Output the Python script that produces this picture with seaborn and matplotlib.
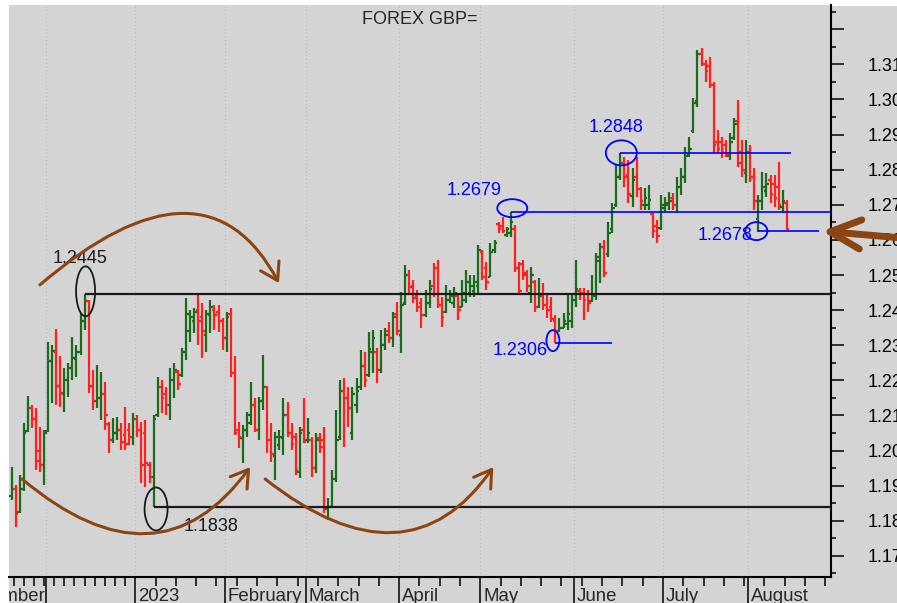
import numpy as np
import pandas as pd
import matplotlib
matplotlib.use("Agg")
import matplotlib.pyplot as plt
import seaborn as sns
from matplotlib.patches import Ellipse, FancyArrowPatch, Rectangle
from matplotlib.path import Path
from matplotlib.ticker import MultipleLocator, FuncFormatter
from matplotlib.transforms import Bbox, TransformedBbox, ScaledTranslation, blended_transform_factory

# ---------------- data: daily GBP bars, 2022-11-18 .. 2023-08-14 (weekdays) ----------------
first_day, last_day = "2022-11-18", "2023-08-14"

opens = [
    1.1870, 1.1890, 1.1825, 1.1890, 1.2055, 1.2120, 1.2090, 1.2000, 1.1960,  # Nov
    1.2055, 1.2255, 1.2280, 1.2185, 1.2160, 1.2200, 1.2235, 1.2260, 1.2280, 1.2370, 1.2425,
    1.2185, 1.2140, 1.2150, 1.2160, 1.2075, 1.2030, 1.2050, 1.2060, 1.2045, 1.2060, 1.2040,  # Dec
    1.2090, 1.2060, 1.2050, 1.1960, 1.1925, 1.2100, 1.2180, 1.2160, 1.2130, 1.2200, 1.2225,
    1.2215, 1.2280, 1.2340, 1.2370, 1.2400, 1.2380, 1.2330, 1.2385, 1.2400, 1.2395, 1.2370,  # Jan
    1.2320, 1.2390, 1.2220, 1.2060, 1.2035, 1.2060, 1.2080, 1.2130, 1.2060, 1.2140,
    1.2180, 1.2030, 1.1985, 1.2015, 1.2035, 1.2100, 1.2050, 1.2040, 1.1940, 1.2060,  # Feb
    1.2030, 1.2030, 1.1950, 1.2035, 1.2030, 1.1835, 1.1840, 1.1920, 1.2040, 1.2170, 1.2150,
    1.2050, 1.2130, 1.2180, 1.2240, 1.2215, 1.2280, 1.2280, 1.2230, 1.2300, 1.2340, 1.2320, 1.2390,  # Mar
    1.2330, 1.2420, 1.2500, 1.2470, 1.2440, 1.2420, 1.2385, 1.2420, 1.2470, 1.2520,
    1.2415, 1.2395, 1.2430, 1.2420, 1.2440, 1.2410, 1.2430, 1.2450, 1.2455, 1.2470,  # Apr
    1.2565, 1.2520, 1.2495, 1.2570, 1.2645, 1.2640, 1.2615, 1.2620, 1.2630, 1.2520, 1.2530,
    1.2505, 1.2450, 1.2480, 1.2410, 1.2440, 1.2415, 1.2410, 1.2370, 1.2340, 1.2350, 1.2360, 1.2370,  # May
    1.2430, 1.2455, 1.2450, 1.2445, 1.2425, 1.2440, 1.2540, 1.2580, 1.2560, 1.2630, 1.2700,
    1.2780, 1.2820, 1.2785, 1.2725, 1.2780, 1.2745, 1.2700, 1.2700, 1.2675, 1.2640, 1.2635,  # Jun
    1.2690, 1.2700, 1.2720, 1.2700, 1.2750, 1.2780, 1.2845, 1.2910, 1.2995, 1.3130, 1.3100,
    1.3095, 1.3040, 1.2880, 1.2880, 1.2870, 1.2840, 1.2890, 1.2940, 1.2850, 1.2790,  # Jul
    1.2850, 1.2780, 1.2660, 1.2710, 1.2740, 1.2770, 1.2760, 1.2750, 1.2695, 1.2705,  # Aug
]
highs = [
    1.1953, 1.1902, 1.1930, 1.2078, 1.2155, 1.2130, 1.2121, 1.2067, 1.2058,
    1.2309, 1.2301, 1.2346, 1.2269, 1.2235, 1.2249, 1.2323, 1.2301, 1.2392, 1.2446, 1.2429,
    1.2229, 1.2244, 1.2224, 1.2195, 1.2081, 1.2093, 1.2096, 1.2079, 1.2124, 1.2079, 1.2107,
    1.2101, 1.2081, 1.2087, 1.1967, 1.2101, 1.2210, 1.2201, 1.2181, 1.2235, 1.2249, 1.2229,
    1.2292, 1.2434, 1.2400, 1.2406, 1.2449, 1.2420, 1.2400, 1.2429, 1.2414, 1.2414, 1.2378,
    1.2394, 1.2405, 1.2270, 1.2081, 1.2073, 1.2110, 1.2195, 1.2150, 1.2153, 1.2272,
    1.2184, 1.2079, 1.2053, 1.2058, 1.2150, 1.2138, 1.2079, 1.2050, 1.2067, 1.2150,
    1.2093, 1.2038, 1.2050, 1.2050, 1.2067, 1.1865, 1.1944, 1.2115, 1.2201, 1.2207, 1.2181,
    1.2181, 1.2207, 1.2286, 1.2281, 1.2338, 1.2343, 1.2292, 1.2343, 1.2349, 1.2366, 1.2395, 1.2423,
    1.2452, 1.2528, 1.2514, 1.2486, 1.2457, 1.2434, 1.2457, 1.2486, 1.2534, 1.2542,
    1.2437, 1.2471, 1.2457, 1.2466, 1.2449, 1.2486, 1.2514, 1.2500, 1.2500, 1.2586,
    1.2571, 1.2537, 1.2591, 1.2600, 1.2651, 1.2665, 1.2637, 1.2679, 1.2642, 1.2537, 1.2542,
    1.2514, 1.2522, 1.2486, 1.2491, 1.2477, 1.2449, 1.2437, 1.2386, 1.2378, 1.2392, 1.2443, 1.2449,
    1.2542, 1.2463, 1.2463, 1.2457, 1.2500, 1.2562, 1.2591, 1.2600, 1.2651, 1.2705, 1.2813,
    1.2848, 1.2836, 1.2828, 1.2805, 1.2836, 1.2751, 1.2748, 1.2756, 1.2677, 1.2657, 1.2728,
    1.2722, 1.2736, 1.2734, 1.2779, 1.2805, 1.2865, 1.2893, 1.3004, 1.3141, 1.3147, 1.3113,
    1.3121, 1.3050, 1.2913, 1.2893, 1.2885, 1.2905, 1.2947, 1.2999, 1.2885, 1.2885,
    1.2870, 1.2805, 1.2728, 1.2793, 1.2791, 1.2785, 1.2785, 1.2822, 1.2742, 1.2714,
]
lows = [
    1.1859, 1.1782, 1.1822, 1.1885, 1.2053, 1.2064, 1.1944, 1.1938, 1.1902,
    1.2053, 1.2135, 1.2130, 1.2124, 1.2110, 1.2153, 1.2201, 1.2210, 1.2272, 1.2343, 1.2164,
    1.2115, 1.2121, 1.2087, 1.2058, 1.1993, 1.2021, 1.2030, 1.2001, 1.2001, 1.2016, 1.2016,
    1.2038, 1.1907, 1.1896, 1.1907, 1.1838, 1.2095, 1.2107, 1.2101, 1.2087, 1.2150, 1.2173,
    1.2210, 1.2258, 1.2309, 1.2335, 1.2301, 1.2263, 1.2281, 1.2335, 1.2343, 1.2338, 1.2286,
    1.2281, 1.2210, 1.2044, 1.2007, 1.1964, 1.2038, 1.2073, 1.2053, 1.2030, 1.2115,
    1.1993, 1.1967, 1.1916, 1.2001, 1.1987, 1.2038, 1.2001, 1.1930, 1.1922, 1.2021,
    1.2021, 1.1924, 1.1936, 1.1993, 1.1822, 1.1803, 1.1839, 1.1910, 1.2030, 1.2010, 1.2067,
    1.2030, 1.2107, 1.2173, 1.2181, 1.2210, 1.2221, 1.2193, 1.2221, 1.2286, 1.2306, 1.2295, 1.2329,
    1.2278, 1.2414, 1.2449, 1.2420, 1.2395, 1.2349, 1.2380, 1.2406, 1.2437, 1.2406,
    1.2352, 1.2392, 1.2420, 1.2406, 1.2372, 1.2409, 1.2420, 1.2437, 1.2437, 1.2449,
    1.2486, 1.2457, 1.2494, 1.2562, 1.2620, 1.2620, 1.2608, 1.2608, 1.2508, 1.2449, 1.2486,
    1.2452, 1.2420, 1.2395, 1.2406, 1.2400, 1.2378, 1.2366, 1.2306, 1.2338, 1.2349, 1.2343, 1.2349,
    1.2409, 1.2429, 1.2372, 1.2395, 1.2423, 1.2429, 1.2477, 1.2494, 1.2551, 1.2620, 1.2694,
    1.2771, 1.2751, 1.2705, 1.2694, 1.2722, 1.2685, 1.2685, 1.2685, 1.2605, 1.2591, 1.2628,
    1.2679, 1.2685, 1.2685, 1.2677, 1.2728, 1.2762, 1.2836, 1.2905, 1.2979, 1.3095, 1.3050,
    1.3033, 1.2848, 1.2848, 1.2833, 1.2836, 1.2828, 1.2885, 1.2808, 1.2779, 1.2762,
    1.2765, 1.2685, 1.2622, 1.2685, 1.2722, 1.2705, 1.2694, 1.2685, 1.2677, 1.2628,
]
closes = [
    1.1890, 1.1820, 1.1890, 1.2050, 1.2120, 1.2090, 1.1970, 1.1960, 1.2050,
    1.2255, 1.2285, 1.2185, 1.2165, 1.2200, 1.2235, 1.2265, 1.2280, 1.2370, 1.2425, 1.2185,
    1.2140, 1.2150, 1.2160, 1.2100, 1.2030, 1.2050, 1.2060, 1.2025, 1.2020, 1.2040, 1.2090,
    1.2060, 1.1960, 1.1965, 1.1925, 1.2090, 1.2180, 1.2150, 1.2130, 1.2200, 1.2230, 1.2190,
    1.2280, 1.2390, 1.2380, 1.2395, 1.2370, 1.2340, 1.2390, 1.2410, 1.2385, 1.2370, 1.2320,
    1.2380, 1.2220, 1.2050, 1.2040, 1.2060, 1.2100, 1.2130, 1.2060, 1.2140, 1.2180,
    1.2030, 1.1990, 1.2040, 1.2040, 1.2100, 1.2050, 1.2020, 1.1945, 1.2050, 1.2025,
    1.2050, 1.1950, 1.2030, 1.2010, 1.1840, 1.1840, 1.1920, 1.2030, 1.2170, 1.2150, 1.2120,
    1.2160, 1.2170, 1.2240, 1.2200, 1.2290, 1.2320, 1.2230, 1.2300, 1.2330, 1.2320, 1.2380, 1.2340,
    1.2415, 1.2500, 1.2465, 1.2435, 1.2410, 1.2385, 1.2420, 1.2460, 1.2445, 1.2415,
    1.2380, 1.2430, 1.2440, 1.2450, 1.2400, 1.2450, 1.2480, 1.2470, 1.2480, 1.2570,
    1.2495, 1.2480, 1.2565, 1.2590, 1.2630, 1.2625, 1.2630, 1.2650, 1.2520, 1.2455, 1.2500,
    1.2470, 1.2500, 1.2410, 1.2440, 1.2415, 1.2400, 1.2375, 1.2340, 1.2350, 1.2370, 1.2390, 1.2430,
    1.2460, 1.2445, 1.2430, 1.2420, 1.2440, 1.2550, 1.2580, 1.2505, 1.2620, 1.2690, 1.2780,
    1.2820, 1.2780, 1.2730, 1.2770, 1.2745, 1.2710, 1.2720, 1.2715, 1.2625, 1.2610, 1.2700,
    1.2705, 1.2710, 1.2700, 1.2750, 1.2780, 1.2840, 1.2860, 1.2990, 1.3130, 1.3100, 1.3080,
    1.3040, 1.2870, 1.2860, 1.2850, 1.2845, 1.2880, 1.2930, 1.2820, 1.2800, 1.2850,
    1.2780, 1.2710, 1.2710, 1.2750, 1.2760, 1.2730, 1.2720, 1.2700, 1.2710, 1.2630,
]

month_labels = ["November", "", "2023", "February", "March", "April",
                "May", "June", "July", "August"]

# marked levels: bar the level starts from, level, label, where the line stops
level_dates = ["2022-12-14", "2023-01-06", "2023-05-10", "2023-06-16", "2023-05-25", "2023-08-03"]
level_values = [1.2445, 1.1838, 1.2679, 1.2848, 1.2306, 1.2625]
level_texts = ["1.2445", "1.1838", "1.2679", "1.2848", "1.2306", "1.2678"]
level_ends = [None, None, None, "2023-08-15", "2023-06-14", "2023-08-24"]

# ---------------- style ----------------
BG = "#d4d4d4"
GREEN = "#1c6a1c"
RED = "#ff2020"
BLUE = "#0000ff"
BLACK = "#1a1a1a"
BROWN = "#8b4513"

sns.set_theme(style="ticks", rc={"axes.facecolor": BG, "axes.edgecolor": "black",
                                 "xtick.color": "black", "ytick.color": "black"})
plt.rcParams["font.family"] = ["Liberation Sans", "DejaVu Sans"]

calendar = pd.bdate_range("2022-11-01", "2023-08-31")
dates = pd.bdate_range(first_day, last_day)
x = calendar.get_indexer(dates).astype(float)
o, h, l, c = (np.array(v) for v in (opens, highs, lows, closes))
x0 = x[0]
XLIM = (x0 - 0.62, x0 + 201.9)
YLIM = (1.1640, 1.3269)

fig = plt.figure(figsize=(8.97, 6.03), dpi=100)
fig.patch.set_facecolor("white")
fig.add_artist(Rectangle((9 / 897, 0), 1, 597 / 603, transform=fig.transFigure,
                         facecolor=BG, edgecolor="none", zorder=-10))
ax = fig.add_axes([9 / 897, 26 / 603, 822 / 897, 572 / 603])
sns.despine(ax=ax, left=True, top=True, right=False, bottom=False)
for side in ("right", "bottom"):
    ax.spines[side].set_linewidth(1.5)

# bars
up = c >= o
for mask, col in ((up, GREEN), (~up, RED)):
    ax.vlines(x[mask], l[mask], h[mask], color=col, lw=1.6, zorder=2)
    ax.hlines(o[mask], x[mask] - 0.65, x[mask], color=col, lw=1.6, zorder=2)
    ax.hlines(c[mask], x[mask], x[mask] + 0.65, color=col, lw=1.6, zorder=2)

# x axis: month boundaries, weekly ticks (half-weekly in 2022)
month_first = calendar.to_series().groupby(calendar.to_period("M")).min()
month_pos = calendar.get_indexer(month_first) - 0.5
monday_pos = np.flatnonzero(calendar.dayofweek == 0) - 0.5
mid_pos = monday_pos[calendar[(monday_pos + 0.5).astype(int)].year < 2023] + 2.5
ax.set_xticks(month_pos)
ax.set_xticklabels([])
ax.set_xticks(np.sort(np.concatenate([monday_pos, mid_pos])), minor=True)
ax.set_xlim(*XLIM)
ax.set_ylim(*YLIM)
ax.tick_params(axis="x", which="major", length=19, width=1.1, direction="out")
ax.tick_params(axis="x", which="minor", length=6.5, width=1.1, direction="out")
ax.grid(axis="x", which="major", color="#bcbcbc", linestyle=(0, (1, 2)), lw=0.9)

lab_tf = blended_transform_factory(ax.transData, ax.transAxes) + \
    ScaledTranslation(3 / 100, -11 / 100, fig.dpi_scale_trans)
clip = TransformedBbox(Bbox([[0, -1], [1, 1]]), ax.transAxes)
for pos, name in zip(month_pos, month_labels):
    t = ax.text(pos, 0, name, transform=lab_tf, ha="left", va="top", fontsize=13.4)
    t.set_clip_path(None)
    t.set_clip_box(clip)
    t.set_clip_on(True)

# y axis on the right
ax.yaxis.tick_right()
ax.yaxis.set_major_locator(MultipleLocator(0.01))
ax.yaxis.set_minor_locator(MultipleLocator(0.005))
ax.yaxis.set_major_formatter(FuncFormatter(lambda v, _: f"{v:.2f}" if v < 1.315 else ""))
ax.tick_params(axis="y", which="major", length=9.1, width=1.1, pad=17, labelsize=13,
               right=True, left=False)
ax.tick_params(axis="y", which="minor", length=3.6, width=1.1, right=True, left=False)

ax.text(0.5, 0.974, "FOREX GBP=", transform=ax.transAxes, ha="center", va="center",
        fontsize=13)

# marked levels
xu = (XLIM[1] - XLIM[0]) / 822
yu = (YLIM[1] - YLIM[0]) / 572
colors = [BLACK, BLACK, BLUE, BLUE, BLUE, BLUE]
text_off = [(-32, 36), (30, -19), (-64, 22), (-32, 25), (-63, -7), (-61, -4)]
ell_size = [(19, 50), (23, 43), (30, 18), (31, 25), (13, 21), (22, 18)]
ell_off = [(1, 3), (2.5, -1.5), (1.5, 4), (1, 0), (-2.5, 2.5), (-2, 0)]
for d, v, txt, end, col, toff, esz, eoff in zip(level_dates, level_values, level_texts,
                                               level_ends, colors, text_off, ell_size, ell_off):
    xi = calendar.get_loc(pd.Timestamp(d))
    xe = XLIM[1] if end is None else calendar.get_loc(pd.Timestamp(end))
    ax.hlines(v, xi, xe, color=col, lw=1.6 if col == BLACK else 1.2, zorder=3)
    ax.add_patch(Ellipse((xi + eoff[0] * xu, v + eoff[1] * yu), esz[0] * xu, esz[1] * yu,
                         fill=False, edgecolor=col, lw=1.3, zorder=4))
    ax.annotate(txt, (xi, v), xytext=(toff[0] * 0.72, toff[1] * 0.72),
                textcoords="offset points", color=col, fontsize=13, ha="left", va="center",
                zorder=5)

# brown swing arrows
swings = [
    [(x0 + 7.0, 1.2472), (x0 + 47.6, 1.2873), (x0 + 65.9, 1.2477)],
    [(x0 + 2.6, 1.1919), (x0 + 36.1, 1.1594), (x0 + 58.8, 1.1953)],
    [(x0 + 62.5, 1.1919), (x0 + 97.5, 1.1600), (x0 + 118.7, 1.1953)],
]
for pts in swings:
    path = Path(pts, [Path.MOVETO, Path.CURVE3, Path.CURVE3])
    ax.add_patch(FancyArrowPatch(path=path, arrowstyle="->,head_length=1.2,head_width=0.75",
                                 mutation_scale=10, color=BROWN, lw=2.2,
                                 capstyle="round", joinstyle="round", zorder=6))

ax.add_patch(FancyArrowPatch((x0 + 221, 1.2604), (x0 + 199.7, 1.2625),
                             arrowstyle="->,head_length=2.2,head_width=1.05",
                             mutation_scale=10, color=BROWN, lw=5, shrinkA=0, shrinkB=0,
                             capstyle="round", joinstyle="round", clip_on=False, zorder=6))

fig.savefig("out.png", dpi=100)
